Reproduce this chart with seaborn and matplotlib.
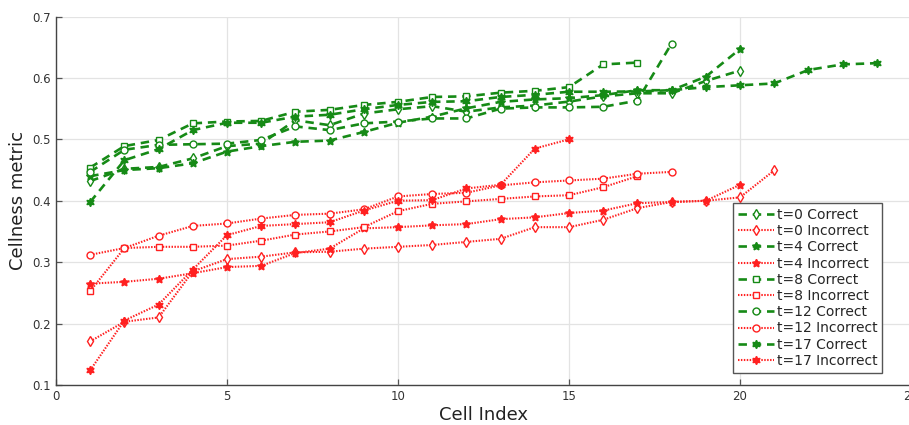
import numpy as np
import pandas as pd
import matplotlib
matplotlib.use('Agg')
import matplotlib.pyplot as plt
import seaborn as sns

# cellness values per cell, sorted
t0_correct = [0.432, 0.452, 0.455, 0.469, 0.489, 0.493, 0.531, 0.523, 0.542, 0.549,
              0.554, 0.545, 0.552, 0.555, 0.5615, 0.570, 0.575, 0.575, 0.595, 0.612]
t0_incorrect = [0.171, 0.203, 0.210, 0.285, 0.305, 0.309, 0.316, 0.317, 0.322, 0.325,
                0.328, 0.333, 0.338, 0.357, 0.357, 0.369, 0.388, 0.398, 0.400, 0.4055, 0.4495]
t4_correct = [0.440, 0.450, 0.453, 0.461, 0.480, 0.489, 0.496, 0.498, 0.512, 0.527,
              0.537, 0.5505, 0.561, 0.565, 0.567, 0.572, 0.580, 0.580, 0.602, 0.647]
t4_incorrect = [0.265, 0.268, 0.273, 0.282, 0.292, 0.294, 0.315, 0.322, 0.355, 0.357,
                0.360, 0.362, 0.370, 0.373, 0.380, 0.384, 0.396, 0.398, 0.400, 0.426]
t8_correct = [0.454, 0.489, 0.499, 0.526, 0.529, 0.530, 0.545, 0.548, 0.556, 0.561,
              0.569, 0.570, 0.576, 0.579, 0.585, 0.622, 0.625]
t8_incorrect = [0.253, 0.323, 0.325, 0.325, 0.327, 0.335, 0.345, 0.350, 0.357, 0.383,
                0.395, 0.399, 0.403, 0.407, 0.409, 0.422, 0.440]
t12_correct = [0.447, 0.483, 0.491, 0.492, 0.493, 0.499, 0.521, 0.515, 0.526, 0.529,
               0.534, 0.534, 0.550, 0.552, 0.552, 0.553, 0.563, 0.656]
t12_incorrect = [0.312, 0.323, 0.343, 0.359, 0.363, 0.371, 0.377, 0.379, 0.386, 0.407,
                 0.411, 0.413, 0.425, 0.430, 0.433, 0.436, 0.444, 0.447]
t17_correct = [0.398, 0.466, 0.484, 0.515, 0.527, 0.527, 0.537, 0.540, 0.549, 0.556,
               0.561, 0.562, 0.569, 0.5725, 0.5775, 0.5775, 0.578, 0.580, 0.585, 0.588,
               0.591, 0.613, 0.622, 0.624]
t17_incorrect = [0.124, 0.205, 0.231, 0.288, 0.344, 0.359, 0.362, 0.365, 0.384, 0.400,
                 0.401, 0.420, 0.426, 0.485, 0.500]

series = [
    ('t=0 Correct', t0_correct, 'd', True),
    ('t=0 Incorrect', t0_incorrect, 'd', False),
    ('t=4 Correct', t4_correct, (5, 1, 0), True),
    ('t=4 Incorrect', t4_incorrect, (5, 1, 0), False),
    ('t=8 Correct', t8_correct, 's', True),
    ('t=8 Incorrect', t8_incorrect, 's', False),
    ('t=12 Correct', t12_correct, 'o', True),
    ('t=12 Incorrect', t12_incorrect, 'o', False),
    ('t=17 Correct', t17_correct, (6, 1, 0), True),
    ('t=17 Incorrect', t17_incorrect, (6, 1, 0), False),
]

sns.set_style('whitegrid')
plt.rcParams['font.family'] = ['DejaVu Sans']

fig = plt.figure(figsize=(9.09, 4.25), dpi=100)
ax = fig.add_axes([56 / 909, 40 / 425, 855 / 909, 368.5 / 425])

green = '#168a16'
red = '#ff2020'
for label, vals, mk, correct in series:
    df = pd.DataFrame({'cell': np.arange(1, len(vals) + 1), 'value': vals})
    col = green if correct else red
    filled = isinstance(mk, tuple)
    sns.lineplot(data=df, x='cell', y='value', ax=ax, label=label, color=col,
                 estimator=None, sort=False,
                 linestyle=(0, (3.2, 2.2)) if correct else (0, (0.7, 0.7)),
                 linewidth=1.9 if correct else 1.5,
                 marker=mk, markersize=6 if filled else 5,
                 markerfacecolor=col if filled else 'white',
                 markeredgecolor=col, markeredgewidth=1.0)

ax.set_xlim(0, 25)
ax.set_ylim(0.1, 0.7)
ax.set_xticks([0, 5, 10, 15, 20, 25])
ax.set_yticks([0.1, 0.2, 0.3, 0.4, 0.5, 0.6, 0.7])
ax.grid(True, color='#e3e3e3', linewidth=0.9)
ax.tick_params(direction='in', length=4, width=0.9, colors='#555555',
               labelcolor='#333333', labelsize=8.5, left=True, bottom=True)
for s in ['top', 'right']:
    ax.spines[s].set_visible(False)
for s in ['left', 'bottom']:
    ax.spines[s].set_color('#444444')
    ax.spines[s].set_linewidth(1.0)

ax.set_xlabel('Cell Index', fontsize=13, color='#222222', labelpad=2)
ax.set_ylabel('Cellness metric', fontsize=13, color='#222222', labelpad=4)

leg = ax.legend(loc='upper left', bbox_to_anchor=(733 / 909, 1 - 203 / 425),
                bbox_transform=fig.transFigure, borderaxespad=0, fontsize=10,
                handlelength=2.6, handletextpad=0.2, labelspacing=0.16,
                borderpad=0.35, fancybox=False, framealpha=1)
leg.get_frame().set_edgecolor('#555555')
leg.get_frame().set_linewidth(1.0)

fig.savefig('out.png', dpi=100)
